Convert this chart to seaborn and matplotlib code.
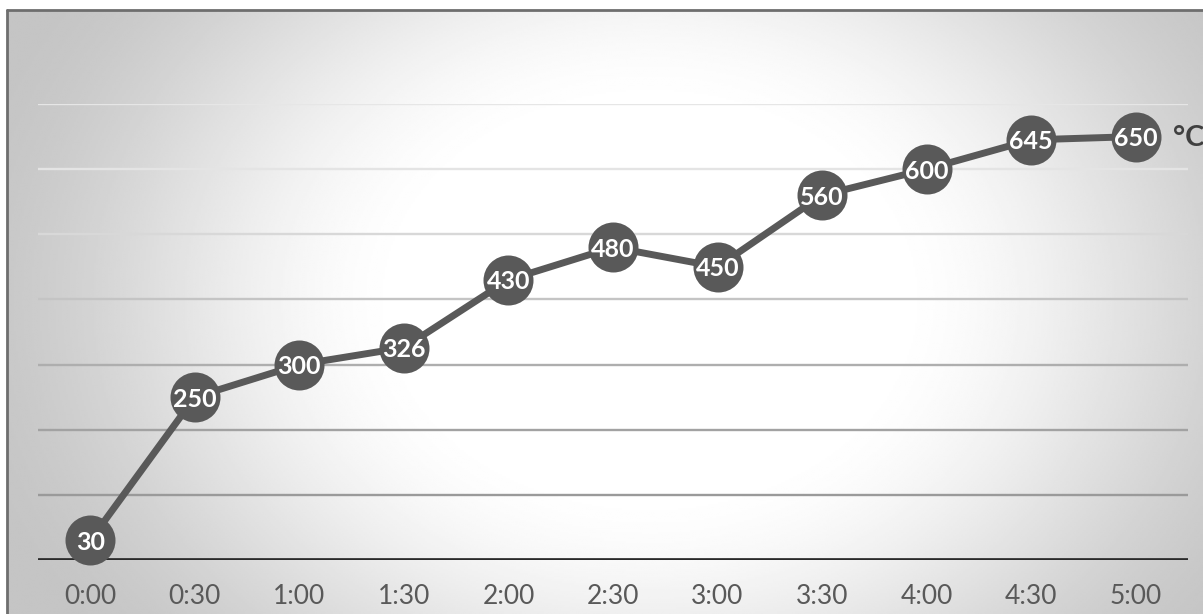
import numpy as np
import pandas as pd
import matplotlib
matplotlib.use("Agg")
import matplotlib.pyplot as plt
import seaborn as sns

# Furnace temperature readings every 30 minutes
times = ["0:00", "0:30", "1:00", "1:30", "2:00", "2:30", "3:00", "3:30", "4:00", "4:30", "5:00"]
temps = [30, 250, 300, 326, 430, 480, 450, 560, 600, 645, 650]
grid_levels = [100, 200, 300, 400, 500, 600, 700]
unit_label = "°C"

sns.set_theme(style="white")
plt.rcParams["font.family"] = ["Lato", "DejaVu Sans"]

W, H = 1203, 614
fig = plt.figure(figsize=(W / 100, H / 100), dpi=100)
fig.patch.set_facecolor("white")

# Radial grey-to-white background of the chart area
bg = fig.add_axes([7 / W, 0, 1 - 7 / W, (H - 10) / H], zorder=0)
ny, nx = 300, 600
yy, xx = np.mgrid[0:ny, 0:nx]
px = 7 + xx / (nx - 1) * (W - 7)
py = 10 + yy / (ny - 1) * (H - 10)
cx, cy, rx, ry = 650, 300, 660, 520
r = np.sqrt(((px - cx) / rx) ** 2 + ((py - cy) / ry) ** 2)
t = np.clip((r - 0.35) / 0.75, 0, 1)
t = t * t * (3 - 2 * t)
val = 1.0 - t * (1.0 - 0.77)
bg.imshow(val, cmap="gray", vmin=0, vmax=1, aspect="auto", interpolation="bilinear",
          extent=[0, 1, 0, 1], origin="upper")
bg.set_xlim(0, 1)
bg.set_ylim(0, 1)
bg.axis("off")
# Chart frame (top and left edges)
bg.plot([0, 0], [0, 1], color="#6e6e6e", lw=2.0, transform=bg.transAxes, clip_on=False)
bg.plot([0, 1], [1, 1], color="#6e6e6e", lw=2.0, transform=bg.transAxes, clip_on=False)

ax = fig.add_axes([38 / W, (H - 560) / H, (1188 - 38) / W, (560 - 104) / H], zorder=1)
ax.set_facecolor("none")

# Horizontal gridlines, deeper grey toward the bottom
grid_cols = ["#9a9a9a", "#a2a2a2", "#aeaeae", "#c4c4c4", "#d8d8d8", "#e4e4e4", "#e6e6e6"]
for lvl, c in zip(grid_levels, grid_cols):
    ax.axhline(lvl, color=c, lw=1.7, zorder=1)
ax.axhline(0, color="#2a2a2a", lw=3.4, zorder=2)

df = pd.DataFrame({"time": times, "temp": temps})
sns.lineplot(data=df, x="time", y="temp", ax=ax, color="#595959", lw=5.0,
             marker="o", markersize=36, markeredgewidth=0, sort=False, zorder=3)
for line in ax.lines[-1:]:
    line.set_clip_on(False)

for i, v in enumerate(temps):
    ax.text(i, v, str(v), ha="center", va="center_baseline", color="white",
            fontsize=18, fontweight="bold", zorder=5)

ax.annotate(unit_label, xy=(len(times) - 1, temps[-1]), xytext=(27, 1),
            textcoords="offset points", ha="left", va="center_baseline",
            fontsize=21, fontweight="bold", color="#404040", annotation_clip=False)

ax.set_xlim(-0.5, len(times) - 0.5)
ax.set_ylim(0, 700)
ax.set_yticks([])
ax.set_xlabel("")
ax.set_ylabel("")
ax.tick_params(axis="x", length=0, pad=17, labelsize=19, labelcolor="#595959")
for s in ax.spines.values():
    s.set_visible(False)

fig.savefig("out.png", dpi=100, facecolor=fig.get_facecolor())
